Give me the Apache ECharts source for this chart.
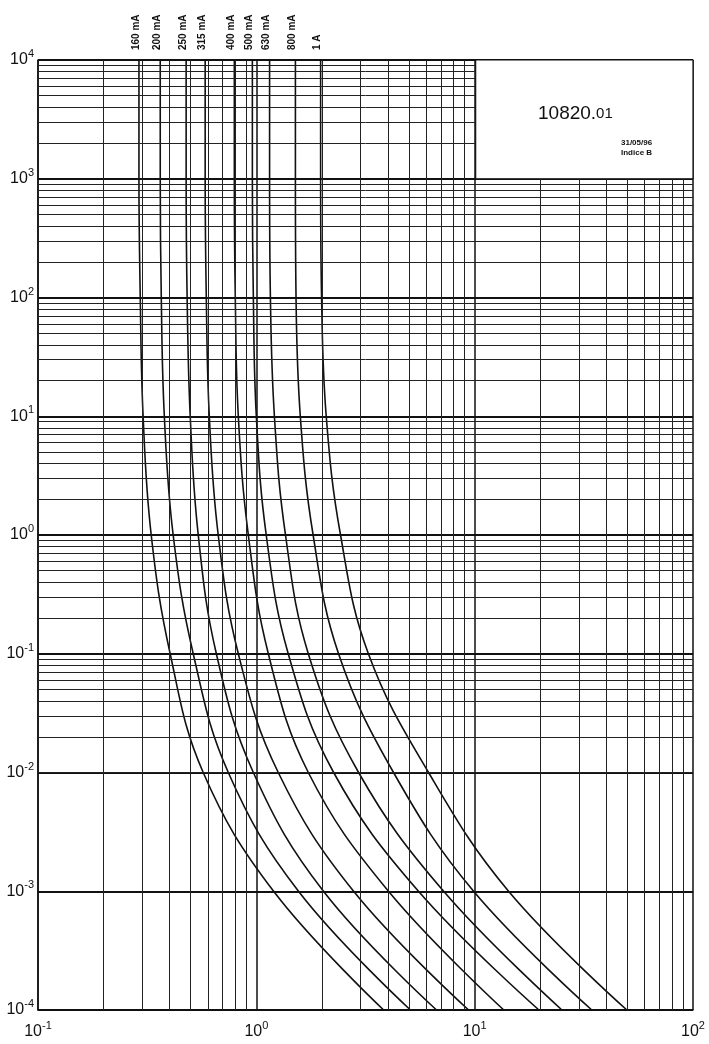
<!DOCTYPE html>
<html lang="en">
<head>
<meta charset="UTF-8">
<script src="https://cdn.jsdelivr.net/npm/echarts@6.0.0/dist/echarts.min.js"></script>
<title>10820.01</title>
<style>html,body{margin:0;background:#fff}#tu{width:709px;height:1044px}</style>
</head>
<body>
<div id="tu"></div>
<script type="text/javascript">
// time levels (s) read at each decade of the y axis
var times = [1e4, 1e3, 1e2, 1e1, 1, 0.1, 0.01, 0.001, 0.0001];
var ratings = ['160 mA', '200 mA', '250 mA', '315 mA', '400 mA', '500 mA', '630 mA', '800 mA', '1 A'];
// current (A) of each curve at the time levels above
var i160 = [0.290, 0.290, 0.294, 0.303, 0.330, 0.403, 0.571, 1.20, 3.83];
var i200 = [0.363, 0.363, 0.367, 0.379, 0.416, 0.514, 0.744, 1.56, 5.08];
var i250 = [0.477, 0.477, 0.482, 0.498, 0.542, 0.656, 0.969, 2.03, 6.69];
var i315 = [0.583, 0.583, 0.590, 0.609, 0.669, 0.827, 1.26, 2.79, 9.38];
var i400 = [0.793, 0.793, 0.801, 0.827, 0.919, 1.135, 1.73, 4.03, 13.6];
var i500 = [0.959, 0.959, 0.969, 1.00, 1.11, 1.40, 2.26, 5.53, 19.7];
var i630 = [1.15, 1.15, 1.16, 1.21, 1.36, 1.73, 2.94, 7.21, 25.1];
var i800 = [1.51, 1.51, 1.52, 1.59, 1.82, 2.38, 4.25, 9.89, 34.4];
var i1000 = [1.97, 1.97, 1.99, 2.09, 2.43, 3.26, 6.15, 14.3, 49.8];
var curves = [i160, i200, i250, i315, i400, i500, i630, i800, i1000];
var xDecades = [0.1, 1, 10, 100];
var yDecades = [1e-4, 1e-3, 1e-2, 1e-1, 1, 10, 100, 1000, 1e4];
var xLabels = {0.1: '-1', 1: '0', 10: '1', 100: '2'};
var yLabels = {0.0001: '-4', 0.001: '-3', 0.01: '-2', 0.1: '-1', 1: '0', 10: '1', 100: '2', 1000: '3', 10000: '4'};

var chart = echarts.init(document.getElementById('tu'));

function minorLines(decades, axis) {
    var out = [];
    for (var d = 0; d < decades.length - 1; d++) {
        for (var m = 2; m <= 9; m++) {
            var o = {}; o[axis] = +(decades[d] * m).toPrecision(3);
            out.push(o);
        }
    }
    return out;
}

var series = curves.map(function (c, k) {
    return {
        name: ratings[k], type: 'line', smooth: 0.4, symbol: 'none',
        lineStyle: {color: '#111', width: 1.6},
        data: c.map(function (v, j) { return [v, times[j]]; })
    };
});
series.push({
    type: 'line', data: [], silent: true,
    markLine: {
        symbol: 'none', silent: true, label: {show: false},
        lineStyle: {color: '#222', width: 1, type: 'solid'},
        data: minorLines(xDecades, 'xAxis').concat(minorLines(yDecades, 'yAxis'))
    }
});

var supLabel = function (map) {
    return function (v) {
        var key = +v.toPrecision(3);
        return map[key] !== undefined ? '10{s|' + map[key] + '}' : '';
    };
};

chart.setOption({
    animation: false,
    grid: {left: 38, right: 16, top: 60, bottom: 34},
    xAxis: {
        type: 'log', min: 0.1, max: 100, logBase: 10,
        axisLine: {lineStyle: {color: '#111', width: 1.5}},
        axisTick: {show: false},
        splitLine: {lineStyle: {color: '#111', width: 1.5}},
        axisLabel: {formatter: supLabel(xLabels), color: '#111', fontFamily: 'Liberation Sans', fontSize: 16, margin: 10,
            rich: {s: {fontSize: 11, verticalAlign: 'top', padding: [0, 0, 12, 0]}}}
    },
    yAxis: {
        type: 'log', min: 1e-4, max: 1e4, logBase: 10,
        axisLine: {lineStyle: {color: '#111', width: 1.5}},
        axisTick: {show: false},
        splitLine: {lineStyle: {color: '#111', width: 1.8}},
        axisLabel: {formatter: supLabel(yLabels), color: '#111', fontFamily: 'Liberation Sans', fontSize: 16, margin: 4,
            rich: {s: {fontSize: 11, verticalAlign: 'top', padding: [0, 0, 12, 0]}}}
    },
    series: series
});

var g = [];
var p0 = chart.convertToPixel('grid', [10, 1e4]);
var p1 = chart.convertToPixel('grid', [100, 1e3]);
g.push({type: 'rect', shape: {x: p0[0] + 1, y: p0[1], width: p1[0] - p0[0] - 1, height: p1[1] - p0[1]},
    style: {fill: '#fff', stroke: '#111', lineWidth: 1.2}, z: 10});
g.push({type: 'text', x: 538, y: 104, style: {text: '10820.{a|01}', fill: '#111', font: '19px Liberation Sans',
    rich: {a: {fontSize: 15, fill: '#111'}}}, z: 11});
g.push({type: 'text', x: 621, y: 138, style: {text: '31/05/96\nIndice B', fill: '#111', font: 'bold 8px Liberation Sans', lineHeight: 10}, z: 11});
curves.forEach(function (c, k) {
    var p = chart.convertToPixel('grid', [c[0], 1e4]);
    g.push({type: 'text', x: p[0] - 3, y: 50, rotation: Math.PI / 2,
        style: {text: ratings[k], fill: '#111', font: 'bold 10px Liberation Sans', align: 'left', verticalAlign: 'middle'}, z: 11});
});
chart.setOption({graphic: g});
</script>
</body>
</html>
